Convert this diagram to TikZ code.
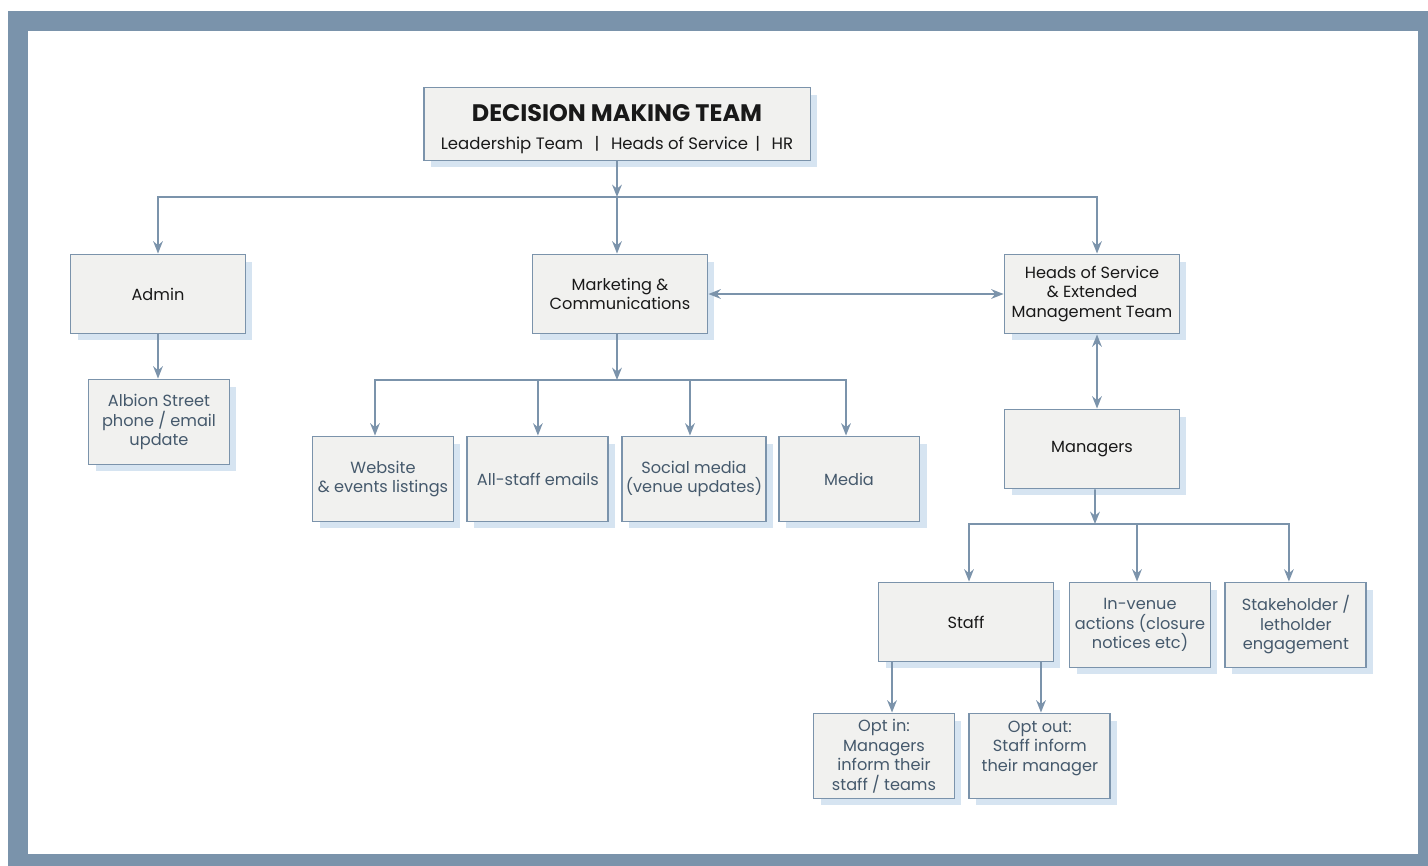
\documentclass[tikz,border=0pt]{standalone}
\usepackage{fontspec}
\setmainfont{Poppins}
\usetikzlibrary{positioning, arrows.meta, shadows}
\definecolor{framegrey}{HTML}{7A93AB}
\definecolor{linegrey}{HTML}{7B93AB}
\definecolor{boxfill}{HTML}{F1F1EF}
\definecolor{shadowblue}{HTML}{D6E4F1}
\definecolor{leaftext}{HTML}{45596C}
\tikzset{
>={Stealth[length=7pt,width=5.5pt]}, % small solid arrow heads
link/.style={draw=linegrey, line width=1.1pt, ->}, % every connector
unit/.style={draw=linegrey, line width=1.1pt, fill=boxfill, align=center, inner sep=2pt,
  minimum width=3.5cm, minimum height=1.58cm, text=black!90,
  font=\fontsize{9.2}{11.1}\selectfont,
  drop shadow={shadow xshift=0.14cm, shadow yshift=-0.14cm, fill=shadowblue, opacity=1}}, % main boxes
}
\tikzset{
  leaf/.append style={unit, minimum width=2.82cm, minimum height=1.7cm, text=leaftext}
}

\begin{document}
\begin{tikzpicture}[x=0.02cm, y=-0.02cm]
      \useasboundingbox (0,0) rectangle (1428,866);
      \fill[framegrey] (8,11) rectangle (1428,866);
      \fill[white] (28,31) rectangle (1418,854);

      \node[unit, minimum width=7.74cm, minimum height=1.46cm, text height=31pt, text depth=2pt] (dmt) at (617,124)
        {{\bfseries\fontsize{13.6}{15}\selectfont DECISION MAKING TEAM}\\[5pt]
         {\fontsize{9.4}{12}\selectfont Leadership Team \ \,| \ \,Heads of Service \,| \ \,HR}};
      \node[unit] (admin) at (158,294) {Admin};
      \node[leaf] (albion) at (159,422) {Albion Street\\phone / email\\update};
      \node[unit] (mkt) at (620,294) {Marketing \&\\Communications};
      \node[unit] (heads) at (1092,294) {Heads of Service\\\& Extended\\Management Team};
      \node[leaf] (web) at (383,479) {Website\\\& events listings};
      \node[leaf, right=0.24cm of web] (allstaff) {All-staff emails};
      \node[leaf, right=0.24cm of allstaff] (social) {Social media\\(venue updates)};
      \node[leaf, right=0.22cm of social] (media) {Media};
      \node[unit] (managers) at (1092,449) {Managers};
      \node[unit] (staff) at (966,622) {Staff};
      \node[leaf] (invenue) at (1140,625) {In-venue\\actions (closure\\notices etc)};
      \node[leaf, right=0.26cm of invenue] (stake) {Stakeholder /\\letholder\\engagement};
      \node[leaf] (optin) at (884,756) {Opt in:\\Managers\\inform their\\staff / teams};
      \node[leaf, right=0.26cm of optin] (optout) {Opt out:\\Staff inform\\their manager\\\mbox{}};

      \coordinate (bus1) at (617,197);
      \coordinate (bus2) at (617,380);
      \coordinate (bus3) at (1095,524);

      % decision making team to the three branches
      \draw[link] (dmt.south) -- (bus1);
      \draw[link] (bus1) -| (admin.north);
      \draw[link] (bus1) -- (bus1 |- mkt.north);
      \draw[link] (bus1) -| ([xshift=0.1cm]heads.north);
      \draw[link] (admin.south) -- (admin.south |- albion.north);
      \draw[link, <->] (mkt) -- (heads);

      % marketing channels
      \draw[link] (bus2 |- mkt.south) -- (bus2);
      \draw[link] (bus2) -| ([xshift=-0.16cm]web.north);
      \draw[link] (allstaff.north |- bus2) -- (allstaff.north);
      \draw[link] ([xshift=-0.08cm]social.north |- bus2) -- ([xshift=-0.08cm]social.north);
      \draw[link] (bus2) -| ([xshift=-0.06cm]media.north);

      % managers and staff
      \draw[link, <->] ([xshift=0.1cm]heads.south) -- ([xshift=0.1cm]managers.north);
      \draw[link] ([xshift=0.06cm]managers.south) -- (bus3);
      \draw[link] (bus3) -| ([xshift=0.06cm]staff.north);
      \draw[link] ([xshift=-0.06cm]invenue.north |- bus3) -- ([xshift=-0.06cm]invenue.north);
      \draw[link] (bus3) -| ([xshift=-0.14cm]stake.north);
      \draw[link] ([xshift=-1.48cm]staff.south) -- ([xshift=-1.48cm]staff.south |- optin.north);
      \draw[link] ([xshift=1.5cm]staff.south) -- ([xshift=1.5cm]staff.south |- optout.north);
    \end{tikzpicture}
\end{document}
